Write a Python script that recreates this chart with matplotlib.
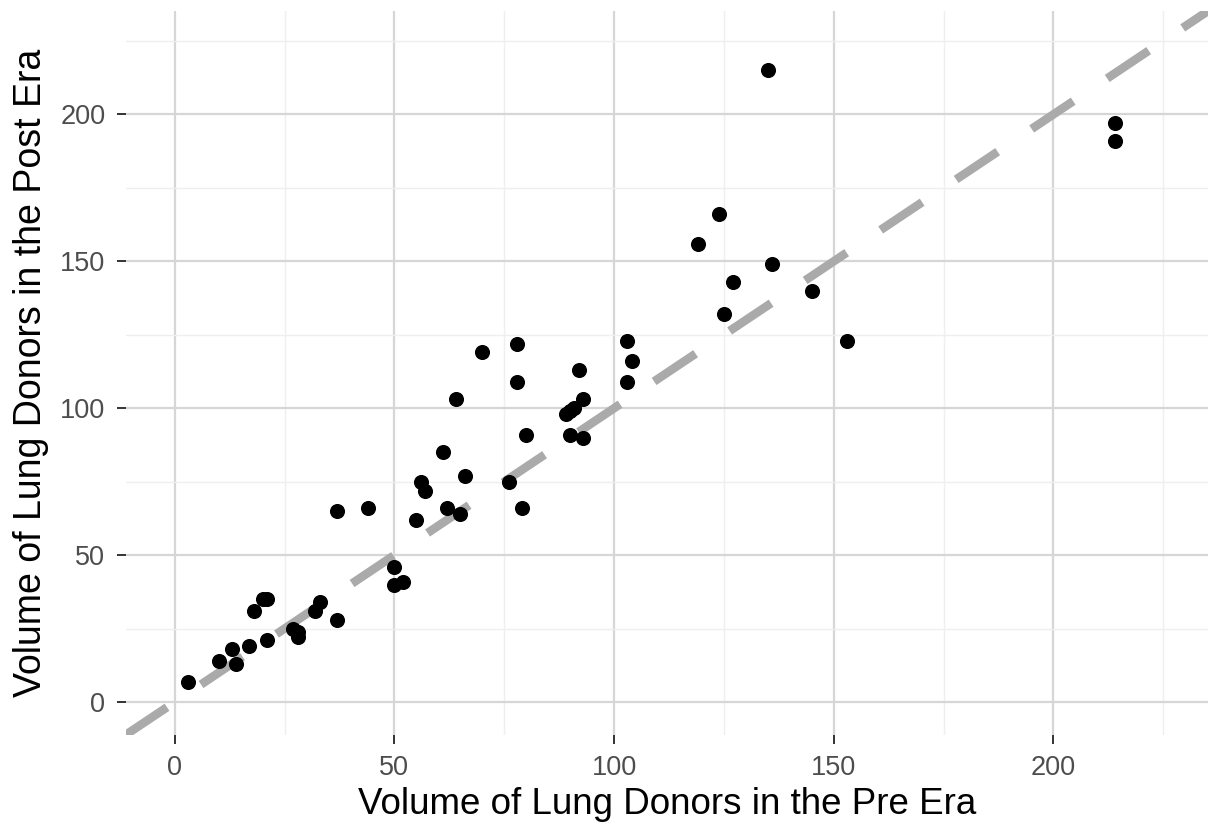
import matplotlib
matplotlib.use("Agg")
import matplotlib.pyplot as plt
import numpy as np

plt.rcParams['font.family'] = ['Liberation Sans', 'DejaVu Sans']

pre_era = [3, 10, 13, 14, 17, 18, 20, 21, 21, 27, 28, 28, 32, 33, 37, 50, 50, 52,
           37, 44, 55, 56, 57, 61, 62, 65, 64, 66, 70, 78, 78, 76, 79, 80,
           92, 93, 89, 90, 91, 90, 93, 103, 104, 103,
           135, 124, 119, 136, 127, 125, 145, 153, 214, 214]
post_era = [7, 14, 18, 13, 19, 31, 35, 35, 21, 25, 24, 22, 31, 34, 28, 46, 40, 41,
            65, 66, 62, 75, 72, 85, 66, 64, 103, 77, 119, 122, 109, 75, 66, 91,
            113, 103, 98, 99, 100, 91, 90, 123, 116, 109,
            215, 166, 156, 149, 143, 132, 140, 123, 197, 191]
major_ticks = [0, 50, 100, 150, 200]
minor_ticks = [25, 75, 125, 175, 225]
lims = [-11.2, 235.2]

fig = plt.figure(figsize=(12.08, 8.30), dpi=100)
ax = fig.add_axes([125.5/1208, (830-735)/830, (1208-125.5)/1208, (735-11)/830])

ax.set_xlim(lims)
ax.set_ylim(lims)
ax.set_xticks(major_ticks)
ax.set_yticks(major_ticks)
ax.set_xticks(minor_ticks, minor=True)
ax.set_yticks(minor_ticks, minor=True)
ax.grid(which='major', color='#d6d6d6', linewidth=1.6)
ax.grid(which='minor', color='#efefef', linewidth=1.0)
ax.set_axisbelow(True)
for s in ax.spines.values():
    s.set_visible(False)

ax.tick_params(which='major', length=6.5, width=1.4, color='#333333',
               labelsize=19.5, labelcolor='#4d4d4d', pad=8)
ax.tick_params(which='minor', length=0)

ax.plot(lims, lims, color='#aaaaaa', linewidth=6.2,
        linestyle=(0.0, (5.8, 4.75)), dash_capstyle='butt', zorder=2)
ax.scatter(pre_era, post_era, s=118, color='black', linewidths=0, zorder=3)

ax.set_xlabel('Volume of Lung Donors in the Pre Era', fontsize=26.5, labelpad=4)
ax.set_ylabel('Volume of Lung Donors in the Post Era', fontsize=27, labelpad=8)

fig.savefig('out.png', dpi=100)
